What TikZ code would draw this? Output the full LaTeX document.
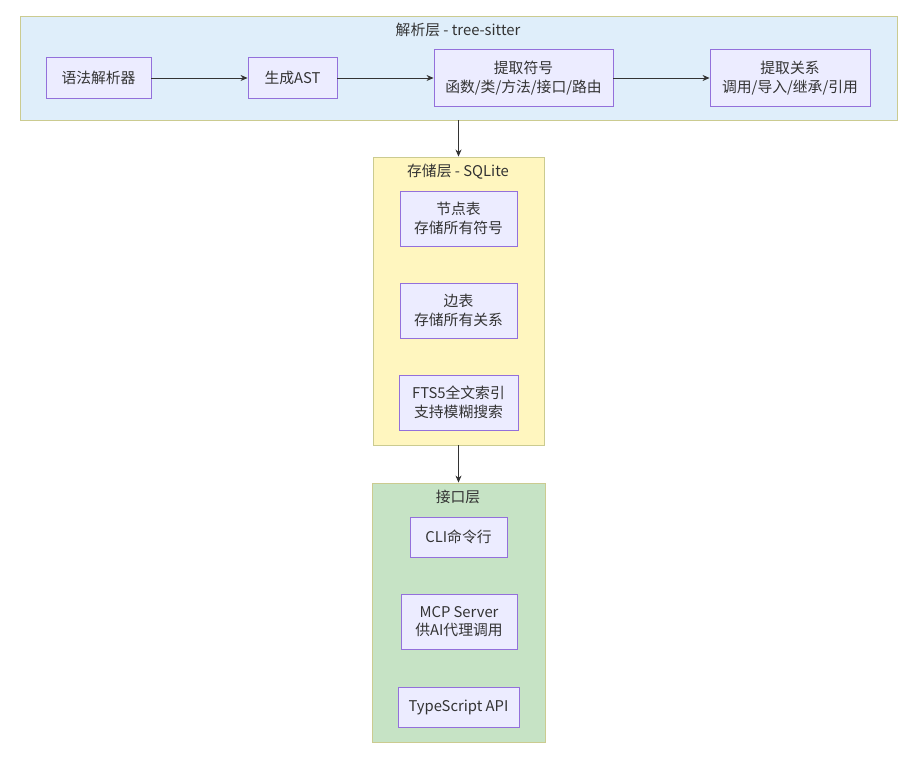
\documentclass[tikz,border=0pt]{standalone}
\usepackage{fontspec}
\setmainfont{Noto Sans CJK SC}
\usetikzlibrary{arrows.meta}
\definecolor{boxfill}{HTML}{ECECFF}
\definecolor{boxline}{HTML}{9370DB}
\definecolor{layerline}{HTML}{CBCB90}
\definecolor{parsefill}{HTML}{DFEEFA}
\definecolor{storefill}{HTML}{FFF6BF}
\definecolor{ifacefill}{HTML}{C6E3C5}
\definecolor{linegray}{HTML}{333333}
\tikzstyle{layer} = [rectangle, draw=layerline, line width=0.9pt, inner sep=0pt]
\tikzstyle{title} = [font=\fontsize{14.8}{18}\selectfont, text=linegray]
\tikzstyle{box} = [rectangle, draw=boxline, fill=boxfill, line width=0.9pt, align=center, inner sep=0pt, text=linegray, font=\fontsize{14.8}{18.5}\selectfont]
\tikzstyle{arrow} = [draw=linegray, line width=0.7pt, -{Stealth[length=7pt,width=6pt]}]

\begin{document}
\begin{tikzpicture}[x=1pt, y=-1pt]
\useasboundingbox (0,0) rectangle (912,759);

% layers
\node (parse)[layer, fill=parsefill, minimum width=877pt, minimum height=104pt] at (458.5,68) {};
\node (parseTitle)[title] at (458,30) {解析层 - tree-sitter};
\node (store)[layer, fill=storefill, minimum width=171pt, minimum height=288pt] at (458.5,301) {};
\node (storeTitle)[title] at (458,172) {存储层 - SQLite};
\node (iface)[layer, fill=ifacefill, minimum width=173pt, minimum height=259pt] at (458.5,612.5) {};
\node (ifaceTitle)[title] at (458,497) {接口层};

% parse layer
\node (grammar)[box, minimum width=105pt, minimum height=41pt] at (98.5,78) {语法解析器};
\node (genAST)[box, minimum width=89pt, minimum height=41pt] at (292.5,78) {生成AST};
\node (symbols)[box, minimum width=179pt, minimum height=57pt] at (523.5,78) {提取符号\\函数/类/方法/接口/路由};
\node (relations)[box, minimum width=160pt, minimum height=57pt] at (790,78) {提取关系\\调用/导入/继承/引用};
\draw [arrow](grammar) -- (genAST);
\draw [arrow](genAST) -- (symbols);
\draw [arrow](symbols) -- (relations);

% store layer
\node (nodeTable)[box, minimum width=117pt, minimum height=55pt] at (458.5,218.5) {节点表\\存储所有符号};
\node (edgeTable)[box, minimum width=117pt, minimum height=55pt] at (458.5,310.5) {边表\\存储所有关系};
\node (ftsIndex)[box, minimum width=119pt, minimum height=55pt] at (458.5,402.5) {FTS5全文索引\\支持模糊搜索};

% interface layer
\node (cli)[box, minimum width=97pt, minimum height=40pt] at (458.5,537) {CLI命令行};
\node (mcp)[box, minimum width=116pt, minimum height=55pt] at (459,621.5) {MCP Server\\供AI代理调用};
\node (tsAPI)[box, minimum width=121pt, minimum height=40pt] at (458.5,707) {TypeScript API};

\draw [arrow](parse) -- (store);
\draw [arrow](store) -- (iface);
\end{tikzpicture}
\end{document}
